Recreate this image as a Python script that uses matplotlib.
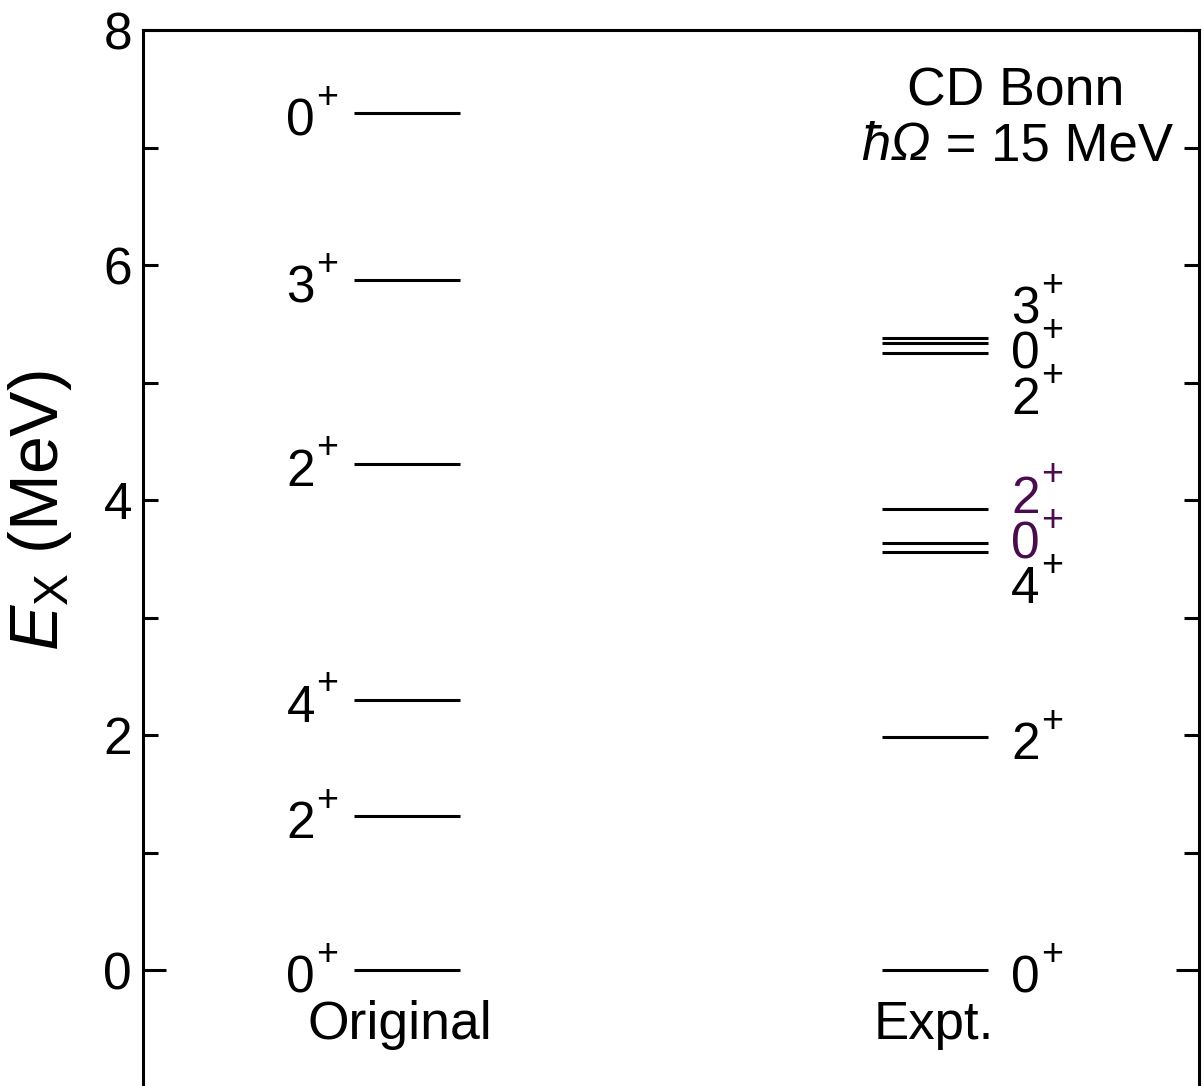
import matplotlib
matplotlib.use("Agg")
import matplotlib.pyplot as plt
from matplotlib.ticker import MultipleLocator

plt.rcParams['font.family'] = ['Liberation Sans', 'DejaVu Sans']
plt.rcParams['mathtext.fontset'] = 'custom'
plt.rcParams['mathtext.rm'] = 'Liberation Sans'
plt.rcParams['mathtext.it'] = 'Liberation Sans:italic'
plt.rcParams['mathtext.bf'] = 'Liberation Sans:bold'

# ---- data ----
columns = ["Original", "Expt."]
orig_energies = [0.0, 1.31, 2.30, 4.31, 5.87, 7.29]
orig_spins = ["0", "2", "4", "2", "3", "0"]
expt_energies = [0.0, 1.982, 3.555, 3.634, 3.920, 5.255, 5.336, 5.378]
expt_spins = ["0", "2", "4", "0", "2", "2", "0", "3"]
expt_label_y = [0.0, 1.98, 3.31, 3.69, 4.08, 4.92, 5.31, 5.69]
expt_label_colors = ["black", "black", "black", "#4a0c4e", "#4a0c4e",
                     "black", "black", "black"]
y_ticks = [0, 2, 4, 6, 8]

W, H = 1204, 1086
PT = 0.72  # points per pixel at dpi 100
fig = plt.figure(figsize=(W / 100, H / 100), dpi=100)
ax_left, ax_right, ax_top, ax_bot = 143, 1199, 30, 1087.5
ax = fig.add_axes([ax_left / W, 1 - ax_bot / H, (ax_right - ax_left) / W,
                   (ax_bot - ax_top) / H])
ax.set_xlim(0, 10)
ax.set_ylim(-1, 8)

lw = 2.2
fs = 37
fs_sup = 27


def spin_label(x, y, spin, side, color="black"):
    if side == "left":  # label to the left of the level, right aligned
        ax.annotate(spin, xy=(x, y), xytext=(-28.6 * PT, -22 * PT),
                    textcoords="offset points", ha="right", va="baseline",
                    fontsize=fs, color=color)
        ax.annotate("+", xy=(x, y), xytext=(-5.6 * PT, 5.5 * PT),
                    textcoords="offset points", ha="right", va="baseline",
                    fontsize=fs_sup, color=color)
    else:
        ax.annotate(spin, xy=(x, y), xytext=(2 * PT, -22 * PT),
                    textcoords="offset points", ha="left", va="baseline",
                    fontsize=fs, color=color)
        ax.annotate("+", xy=(x, y), xytext=(32 * PT, 5.5 * PT),
                    textcoords="offset points", ha="left", va="baseline",
                    fontsize=fs_sup, color=color)


# original levels
for e, s in zip(orig_energies, orig_spins):
    ax.plot([2.0, 3.0], [e, e], color="black", lw=lw, solid_capstyle="butt")
    spin_label(1.9, e, s, "left")
# experimental levels
for e in expt_energies:
    ax.plot([7.0, 8.0], [e, e], color="black", lw=lw, solid_capstyle="butt")
for s, ly, c in zip(expt_spins, expt_label_y, expt_label_colors):
    spin_label(8.2, ly, s, "right", c)

# column labels
ax.text(2.43, -0.47, columns[0], ha="center", va="center", fontsize=38.5)
ax.text(7.49, -0.47, columns[1], ha="center", va="center", fontsize=38)

# annotation
ax.text(8.26, 7.36, "CD Bonn", ha="center", va="baseline", fontsize=38.5)
t1 = ax.text(6.80, 6.89, "ħΩ", ha="left", va="baseline", fontsize=38,
             fontstyle="italic")
ax.annotate(" = 15 MeV", xy=(1, 0), xycoords=t1, ha="left", va="bottom",
            fontsize=38)

# axes styling
ax.spines["bottom"].set_visible(False)
for sp in ["left", "right", "top"]:
    ax.spines[sp].set_linewidth(lw)
ax.set_xticks([])
ax.set_yticks(y_ticks)
ax.yaxis.set_minor_locator(MultipleLocator(1))
ax.tick_params(axis="y", which="both", direction="in", left=True, right=True,
               length=11, width=lw, labelsize=fs, pad=8)
zero_tick = ax.yaxis.get_major_ticks()[0]
zero_tick.tick1line.set_markersize(16.5)
zero_tick.tick2line.set_markersize(16.5)

ax.text(-0.098, 0.545, r"$E_{\mathrm{X}}$ (MeV)", rotation=90, ha="center",
        va="center", fontsize=49, transform=ax.transAxes)

fig.savefig("out.png", dpi=100)
